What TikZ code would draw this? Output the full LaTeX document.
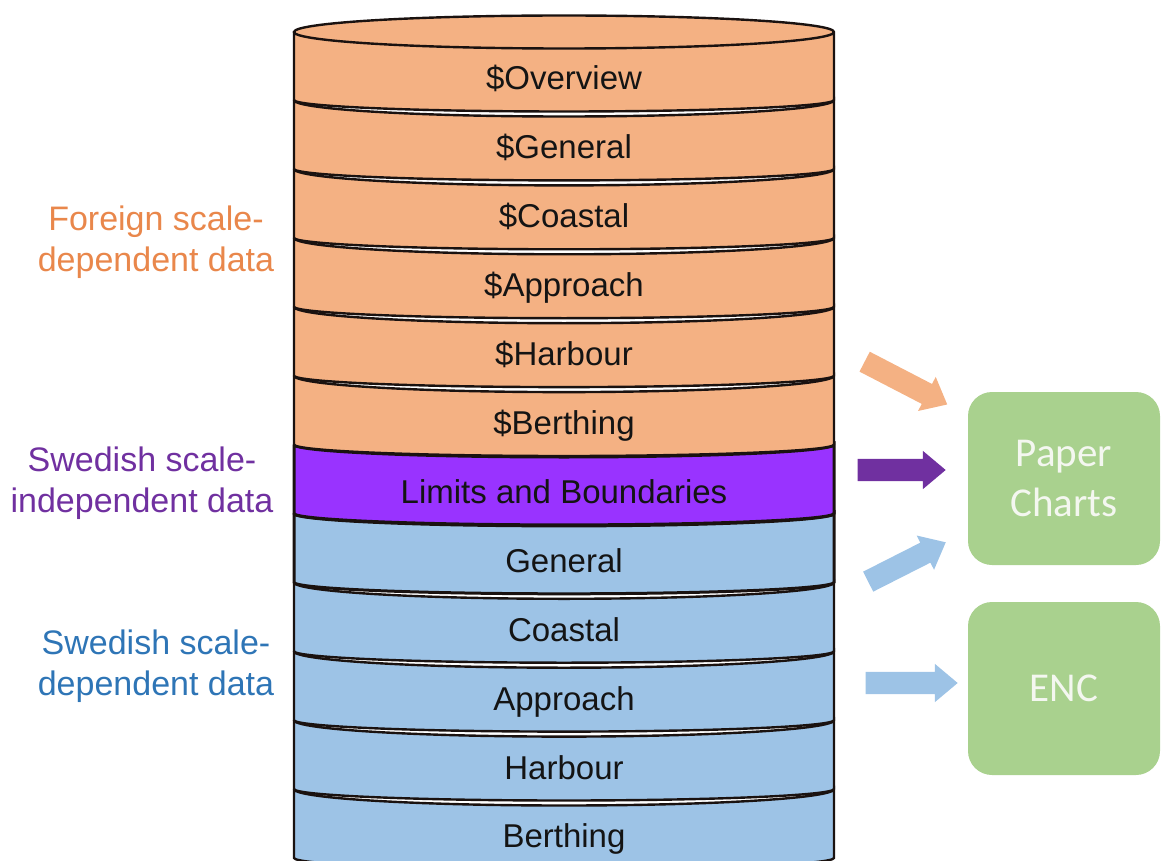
\documentclass[tikz,border=0pt]{standalone}
\usepackage{fontspec}
\setmainfont{Liberation Sans}
\newfontfamily\calib{Carlito}
\usetikzlibrary{shapes.arrows}
\definecolor{orfill}{HTML}{F4B183}
\definecolor{pufill}{HTML}{9933FF}
\definecolor{blfill}{HTML}{9DC3E6}
\definecolor{grfill}{HTML}{A9D18E}
\definecolor{edgec}{HTML}{1A1210}
\definecolor{orlab}{HTML}{E9874B}
\definecolor{pulab}{HTML}{7030A0}
\definecolor{bllab}{HTML}{2E75B6}
\definecolor{puarrow}{HTML}{7030A0}
\definecolor{grtext}{HTML}{F4F7F0}
\tikzset{
  layerline/.style={draw=edgec, line width=2.4pt},
  layertext/.style={font=\fontsize{33}{40}\selectfont, text=black!92, anchor=base, inner sep=0pt},
  sidelabel/.style={font=\fontsize{34}{41}\selectfont, align=center, inner sep=0pt},
  blockarrow/.style={single arrow, draw=none, inner xsep=0pt, inner ysep=11pt, outer sep=0pt,
    text height=0pt, text depth=0pt, single arrow head extend=8pt, single arrow tip angle=80},
  outbox/.style={fill=grfill, draw=none, rounded corners=24pt, minimum width=192pt,
    minimum height=173pt, text=grtext, align=center, font=\calib\fontsize{41}{50}\selectfont}
}
\begin{document}
\begin{tikzpicture}[x=1pt,y=-1pt]
\useasboundingbox (0,0) rectangle (1162,861);
% layers, drawn from bottom to top
\foreach \i/\t/\c/\tr/\lw in {
  11/Berthing/blfill/16.5/2.4, 10/Harbour/blfill/16.5/2.4, 9/Approach/blfill/16.5/2.4,
  8/Coastal/blfill/16.5/2.4, 7/General/blfill/12.5/3,
  6/Limits and Boundaries/pufill/12.5/3,
  5/\$Berthing/orfill/16.5/2.4, 4/\$Harbour/orfill/16.5/2.4, 3/\$Approach/orfill/16.5/2.4,
  2/\$Coastal/orfill/16.5/2.4, 1/\$General/orfill/16.5/2.4}{
  \pgfmathsetmacro{\b}{100+68.9*\i}
  \pgfmathsetmacro{\a}{100+68.9*(\i-1)}
  \fill[\c] (294,\a) -- (294,\b) arc[start angle=180,end angle=360,x radius=270pt,y radius=11.5pt]
     -- (834,\a) arc[start angle=0,end angle=-180,x radius=270pt,y radius=\tr pt] -- cycle;
  \draw[layerline, line width=\lw pt] (294,\a) -- (294,\b) arc[start angle=180,end angle=360,x radius=270pt,y radius=11.5pt]
     -- (834,\a) arc[start angle=0,end angle=-180,x radius=270pt,y radius=\tr pt];
  \node[layertext] (L\i) at (564,\b-10) {\t};
}
% top layer
\fill[orfill] (294,32) -- (294,100) arc[start angle=180,end angle=360,x radius=270pt,y radius=11.5pt]
   -- (834,32) arc[start angle=0,end angle=180,x radius=270pt,y radius=16.5pt] -- cycle;
\draw[layerline] (294,32) -- (294,100) arc[start angle=180,end angle=360,x radius=270pt,y radius=11.5pt]
   -- (834,32) arc[start angle=0,end angle=360,x radius=270pt,y radius=16.5pt];
\node[layertext] (L0) at (564,90) {\$Overview};
% side labels
\node[sidelabel, text=orlab] (lf) at (156,242) {Foreign scale-\\dependent data};
\node[sidelabel, text=pulab] (ls) at (142,483) {Swedish scale-\\independent data};
\node[sidelabel, text=bllab] (lb) at (156,666) {Swedish scale-\\dependent data};
% output boxes
\node[outbox] (pc) at (1064,478.5) {Paper\\Charts};
\node[outbox] (enc) at (1064,688.5) {ENC};
% block arrows
\node[blockarrow, fill=orfill, minimum height=93pt, rotate=-27.4] (a1) at (900,380) {};
\node[blockarrow, fill=puarrow, minimum height=88pt] (a2) at (895,470) {};
\node[blockarrow, fill=blfill, minimum height=87pt, rotate=26.9] (a3) at (901,565) {};
\node[blockarrow, fill=blfill, minimum height=92pt] (a4) at (905,683) {};
\end{tikzpicture}
\end{document}
